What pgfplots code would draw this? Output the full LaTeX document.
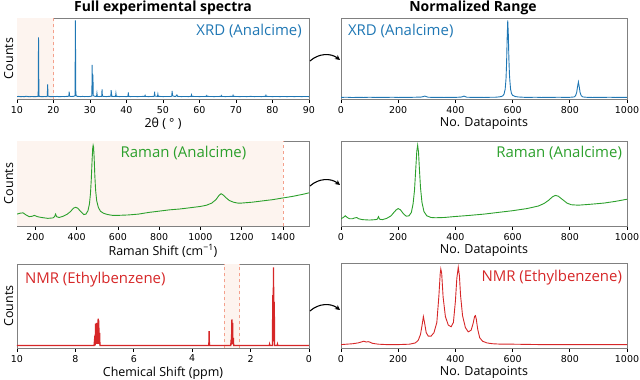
\documentclass[border=0pt]{standalone}
\usepackage{fontspec}
\setmainfont{Open Sans}
\newfontfamily\tickfont{DejaVu Sans}
\usepackage{pgfplots}
\pgfplotsset{compat=1.18}
\usetikzlibrary{arrows.meta}
\definecolor{xrdblue}{HTML}{1F77B4}
\definecolor{ramangreen}{HTML}{2CA02C}
\definecolor{nmrred}{HTML}{D62728}
\definecolor{bandfill}{HTML}{FDF4EF}
\definecolor{cutline}{HTML}{F4A08C}
\definecolor{frame}{HTML}{808080}

\tikzset{lbl/.style={font=\fontsize{15}{17}\selectfont, inner sep=0pt}}
\pgfplotsset{
  panel/.style={
    scale only axis, ymin=0, ymax=1, ytick=\empty,
    axis line style={draw=frame, line width=0.8bp},
    xtick pos=bottom, tick align=outside, major tick length=3.5bp,
    tick style={draw=black, line width=0.8bp},
    ticklabel style={font=\tickfont\fontsize{9.5}{11}\selectfont},
    /pgf/number format/assume math mode=true,
    /pgf/number format/1000 sep={},
    xlabel style={font=\fontsize{12.5}{14}\selectfont, inner sep=0pt, yshift=-1bp},
    ylabel style={font=\fontsize{12.5}{14}\selectfont, inner sep=0pt},
    anchor=north west, clip=true},
  fullcol/.style={panel, width=292bp, ylabel={Counts}},
  normcol/.style={panel, width=286bp, xmin=0, xmax=1000,
    xtick={0,200,...,1000}, xlabel={No. Datapoints}},
  spec/.style={line width=0.9bp, no marks}
}

\begin{document}
\begin{tikzpicture}
\path[use as bounding box] (0,0) rectangle (640bp,-380bp);

\node[font=\bfseries\fontsize{14}{16}\selectfont] at (163bp,-8bp) {Full experimental spectra};
\node[font=\bfseries\fontsize{14}{16}\selectfont] at (473bp,-8bp) {Normalized Range};

% ---- row 1: XRD
\begin{axis}[fullcol, at={(17bp,-18bp)}, height=81bp,
  xmin=10, xmax=90, xtick={10,20,...,90}, xlabel={2θ ( ° )}]
\fill[bandfill] (axis cs:10,0) rectangle (axis cs:20,1);
\draw[cutline, dashed, line width=0.8bp] (axis cs:20,0) -- (axis cs:20,1);
\addplot[spec, xrdblue] coordinates {
(10,0.030)(10.5,0.032)(11,0.028)(11.5,0.031)(12,0.029)(12.5,0.034)(13,0.030)(13.5,0.028)
(14,0.031)(14.5,0.030)(15,0.029)(15.5,0.031)(15.8,0.033)(15.9,0.76)(16.0,0.05)(16.1,0.032)
(16.5,0.030)(17,0.029)(17.5,0.031)(18,0.030)(18.3,0.034)(18.4,0.18)(18.5,0.035)(19,0.030)
(19.5,0.029)(20,0.031)(20.5,0.030)(21,0.032)(21.5,0.029)(22,0.030)(22.5,0.031)(23,0.030)
(23.5,0.032)(24.2,0.034)(24.3,0.09)(24.4,0.034)(25,0.031)(25.5,0.033)(25.9,0.04)(26.0,0.97)
(26.1,0.10)(26.2,0.04)(26.5,0.033)(27,0.031)(27.5,0.030)(28,0.032)(28.5,0.030)(29,0.031)
(29.5,0.030)(30,0.032)(30.5,0.036)(30.6,0.42)(30.7,0.06)(30.8,0.30)(30.9,0.04)(31.5,0.031)
(31.8,0.033)(31.9,0.07)(32.0,0.033)(32.5,0.030)(33.2,0.033)(33.3,0.12)(33.4,0.034)(34,0.031)
(34.5,0.030)(35,0.032)(35.7,0.034)(35.8,0.11)(35.9,0.06)(36.0,0.033)(36.5,0.031)(37.0,0.033)
(37.1,0.07)(37.2,0.033)(38,0.030)(39,0.031)(40,0.030)(40.4,0.033)(40.5,0.08)(40.6,0.033)
(41,0.030)(42,0.031)(43,0.030)(44,0.031)(45,0.033)(45.1,0.045)(45.2,0.031)(46,0.030)
(47,0.031)(47.6,0.034)(47.7,0.09)(47.8,0.034)(48.5,0.033)(48.6,0.06)(48.7,0.033)(49.5,0.031)
(50,0.030)(51,0.031)(52,0.031)(52.4,0.034)(52.5,0.10)(52.6,0.05)(52.8,0.034)(53.5,0.032)
(53.8,0.05)(54.0,0.032)(54.5,0.031)(55,0.030)(56,0.031)(57,0.030)(57.7,0.032)(57.8,0.05)
(57.9,0.032)(59,0.031)(60,0.030)(61,0.031)(61.9,0.032)(62.0,0.042)(62.1,0.032)(63,0.031)
(64,0.030)(65,0.031)(65.9,0.032)(66.0,0.042)(66.1,0.032)(67,0.030)(68,0.031)(69.1,0.033)
(69.2,0.046)(69.3,0.033)(70,0.031)(71,0.030)(72,0.031)(73,0.030)(74,0.032)(75,0.030)
(76,0.031)(77,0.030)(78.1,0.033)(78.2,0.046)(78.3,0.033)(79,0.031)(80,0.030)(81,0.031)
(82,0.030)(83,0.031)(84,0.030)(85,0.031)(86,0.030)(87,0.031)(88,0.030)(89,0.031)(90,0.030)};
\node[lbl, text=xrdblue, anchor=east] at (rel axis cs:0.976,0.84) {XRD (Analcime)};
\end{axis}

\begin{axis}[normcol, at={(341bp,-18bp)}, height=81bp]
\addplot[spec, xrdblue] coordinates {
(0,0.020)(20,0.022)(40,0.018)(60,0.021)(80,0.019)(100,0.022)(120,0.019)(140,0.021)
(160,0.020)(180,0.022)(200,0.019)(220,0.021)(240,0.020)(260,0.022)(280,0.024)(288,0.030)
(293,0.036)(298,0.030)(305,0.022)(320,0.020)(340,0.021)(360,0.019)(380,0.021)(400,0.020)
(420,0.024)(426,0.030)(430,0.036)(434,0.030)(440,0.022)(460,0.020)(480,0.021)(500,0.019)
(520,0.021)(540,0.022)(550,0.025)(560,0.030)(566,0.040)(570,0.060)(574,0.12)(577,0.25)
(579,0.45)(581,0.75)(583,0.97)(585,0.80)(587,0.50)(589,0.30)(591,0.20)(593,0.12)
(596,0.07)(600,0.045)(610,0.030)(620,0.025)(640,0.021)(660,0.020)(680,0.022)(700,0.019)
(720,0.021)(740,0.020)(760,0.022)(780,0.020)(800,0.021)(815,0.025)(820,0.040)(824,0.080)
(827,0.15)(830,0.21)(833,0.15)(836,0.08)(840,0.04)(846,0.025)(860,0.021)(880,0.019)
(900,0.021)(920,0.020)(940,0.022)(960,0.019)(980,0.021)(1000,0.020)};
\node[lbl, text=xrdblue, anchor=west] at (rel axis cs:0.024,0.84) {XRD (Analcime)};
\end{axis}

% ---- row 2: Raman
\begin{axis}[fullcol, at={(17bp,-141bp)}, height=85bp,
  xmin=111, xmax=1526, xtick={200,400,...,1400},
  xlabel={Raman Shift (cm\textsuperscript{−1})}]
\fill[bandfill] (axis cs:111,0) rectangle (axis cs:1400,1);
\draw[cutline, dashed, line width=0.8bp] (axis cs:1400,0) -- (axis cs:1400,1);
\addplot[spec, ramangreen] coordinates {
(111,0.14)(125,0.15)(140,0.155)(155,0.13)(170,0.11)(185,0.115)(195,0.125)(210,0.11)
(230,0.10)(260,0.09)(285,0.095)(293,0.11)(298,0.14)(303,0.11)(315,0.10)(335,0.115)
(355,0.14)(370,0.17)(385,0.21)(395,0.22)(405,0.21)(420,0.17)(435,0.135)(445,0.14)
(455,0.18)(462,0.26)(467,0.38)(471,0.55)(475,0.78)(478,0.92)(480,0.95)(482,0.93)
(485,0.80)(488,0.60)(492,0.42)(497,0.30)(505,0.22)(515,0.175)(530,0.15)(550,0.135)
(575,0.125)(600,0.125)(650,0.13)(700,0.14)(750,0.16)(800,0.175)(850,0.19)(900,0.20)
(950,0.215)(1000,0.23)(1030,0.245)(1055,0.27)(1075,0.31)(1090,0.36)(1100,0.38)(1110,0.365)
(1125,0.33)(1140,0.30)(1160,0.28)(1180,0.27)(1200,0.27)(1250,0.28)(1300,0.295)(1350,0.31)
(1400,0.33)(1450,0.35)(1500,0.375)(1526,0.39)};
\node[lbl, text=ramangreen, anchor=center] at (rel axis cs:0.57,0.86) {Raman (Analcime)};
\end{axis}

\begin{axis}[normcol, at={(341bp,-141bp)}, height=85bp]
\addplot[spec, ramangreen] coordinates {
(0,0.085)(8,0.10)(15,0.12)(22,0.10)(30,0.085)(40,0.085)(48,0.095)(55,0.10)
(62,0.085)(75,0.075)(100,0.07)(120,0.075)(127,0.08)(131,0.11)(135,0.08)(145,0.075)
(160,0.09)(175,0.12)(185,0.16)(193,0.19)(200,0.205)(208,0.19)(218,0.145)(228,0.115)
(238,0.12)(246,0.16)(252,0.26)(257,0.42)(261,0.65)(265,0.88)(268,0.95)(271,0.87)
(274,0.68)(278,0.45)(283,0.28)(290,0.17)(300,0.12)(315,0.10)(330,0.097)(360,0.10)
(400,0.112)(450,0.125)(500,0.14)(550,0.16)(600,0.18)(650,0.205)(690,0.235)(710,0.265)
(725,0.30)(740,0.345)(750,0.36)(760,0.35)(775,0.31)(790,0.27)(805,0.25)(830,0.245)
(870,0.255)(920,0.27)(960,0.29)(1000,0.315)};
\node[lbl, text=ramangreen, anchor=east] at (rel axis cs:0.983,0.86) {Raman (Analcime)};
\end{axis}

% ---- row 3: NMR
\begin{axis}[fullcol, at={(17bp,-264bp)}, height=84bp,
  xmin=0, xmax=10, x dir=reverse, xtick={0,2,...,10},
  xlabel={Chemical Shift (ppm)}]
\fill[bandfill] (axis cs:2.38,0) rectangle (axis cs:2.9,1);
\draw[cutline, dashed, line width=0.8bp] (axis cs:2.9,0) -- (axis cs:2.9,1);
\draw[cutline, dashed, line width=0.8bp] (axis cs:2.38,0) -- (axis cs:2.38,1);
\addplot[spec, nmrred, line width=1.3bp] coordinates {
(10,0.03)(7.36,0.03)(7.33,0.15)(7.32,0.03)(7.31,0.29)(7.30,0.05)(7.28,0.30)(7.27,0.05)
(7.25,0.22)(7.24,0.05)(7.22,0.35)(7.21,0.06)(7.20,0.33)(7.19,0.05)(7.17,0.18)(7.16,0.03)
(3.43,0.03)(3.42,0.20)(3.41,0.03)(2.68,0.03)(2.665,0.10)(2.655,0.04)(2.64,0.34)(2.63,0.06)
(2.615,0.30)(2.605,0.05)(2.59,0.12)(2.58,0.03)(1.36,0.03)(1.35,0.045)(1.34,0.03)(1.25,0.03)
(1.24,0.63)(1.23,0.08)(1.215,0.96)(1.205,0.10)(1.19,0.55)(1.18,0.03)(1.09,0.03)(1.08,0.045)
(1.07,0.03)(0,0.03)};
\node[lbl, text=nmrred, anchor=west] at (rel axis cs:0.027,0.81) {NMR (Ethylbenzene)};
\end{axis}

\begin{axis}[normcol, at={(341bp,-263bp)}, height=85bp]
\addplot[spec, nmrred] coordinates {
(0,0.04)(20,0.045)(40,0.05)(60,0.06)(70,0.07)(80,0.08)(88,0.07)(95,0.075)
(100,0.07)(110,0.055)(130,0.045)(160,0.04)(200,0.04)(240,0.045)(260,0.06)(270,0.09)
(278,0.16)(284,0.28)(288,0.37)(292,0.30)(298,0.18)(305,0.14)(315,0.14)(325,0.18)
(335,0.30)(342,0.60)(347,0.88)(349,0.93)(352,0.88)(357,0.60)(365,0.37)(375,0.27)
(385,0.25)(393,0.30)(400,0.55)(405,0.82)(410,0.95)(414,0.85)(418,0.62)(425,0.38)
(435,0.24)(445,0.19)(455,0.21)(462,0.29)(467,0.37)(470,0.38)(473,0.34)(478,0.22)
(485,0.12)(495,0.08)(510,0.06)(530,0.05)(560,0.045)(600,0.045)(700,0.04)(800,0.04)
(900,0.04)(1000,0.04)};
\node[lbl, text=nmrred, anchor=east] at (rel axis cs:0.983,0.83) {NMR (Ethylbenzene)};
\end{axis}

% ---- arrows between columns
\foreach \yy in {61,186,311}{
  \draw[line width=1.1bp, -{Stealth[length=5bp,width=5bp]}]
    (310bp,-\yy bp) to[bend left=40] (340bp,-\yy bp+1bp);
}
\end{tikzpicture}
\end{document}
